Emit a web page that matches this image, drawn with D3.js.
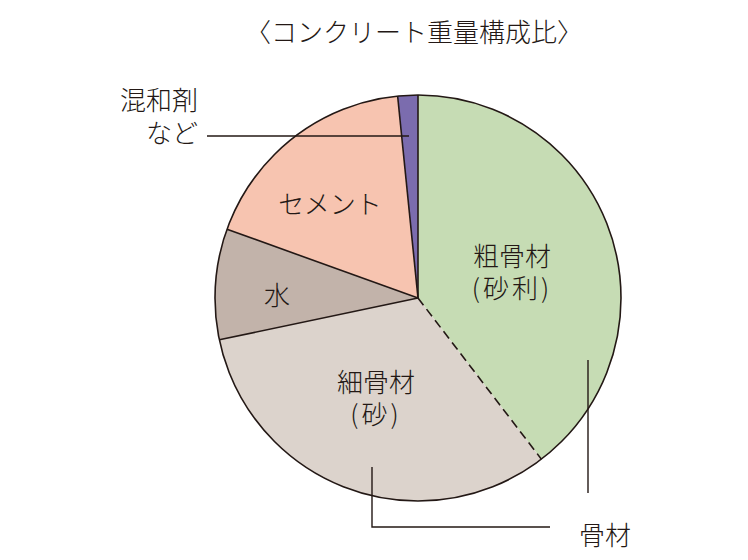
<!DOCTYPE html>
<html><head><meta charset="utf-8">
<script src="https://cdn.jsdelivr.net/npm/d3@7"></script>
<style>body{margin:0;background:#fff}svg{display:block}text{font-family:"Noto Sans CJK JP","Noto Sans",sans-serif;fill:#231815;font-weight:300}</style>
</head><body>
<script>
const categories = ["粗骨材(砂利)", "細骨材(砂)", "水", "セメント", "混和剤など"];
const values = [39.6, 32.1, 8.8, 17.9, 1.6];
const colors = ["#c6dcb4", "#dcd3cc", "#c2b3aa", "#f7c4b0", "#7b6cae"];
const title = "〈コンクリート重量構成比〉";

const W = 748, H = 560, cx = 418, cy = 298, R = 203;
const ink = "#231815";
const svg = d3.select("body").append("svg").attr("width", W).attr("height", H);
const g = svg.append("g").attr("transform", `translate(${cx},${cy})`);
const pie = d3.pie().sort(null).value(d => d)(values);
const arc = d3.arc().innerRadius(0).outerRadius(R);
g.selectAll("path.s").data(pie).join("path").attr("class","s")
  .attr("d", arc).attr("fill", (d,i) => colors[i]);
g.append("circle").attr("r", R).attr("fill","none").attr("stroke", ink).attr("stroke-width", 1.6);
g.selectAll("line.b").data(pie).join("line").attr("class","b")
  .attr("x1",0).attr("y1",0)
  .attr("x2", d => R*Math.sin(d.startAngle)).attr("y2", d => -R*Math.cos(d.startAngle))
  .attr("stroke", ink).attr("stroke-width", 1.6)
  .attr("stroke-dasharray", (d,i) => i === 1 ? "9,5" : null);

svg.append("text").attr("x", 414).attr("y", 42).attr("text-anchor","middle")
  .attr("font-size", 26).text(title);

function lbl(lines, x, y, anchor="middle", lh=31, ls=0) {
  const t = svg.append("text").attr("x", x).attr("y", y).attr("text-anchor", anchor).attr("font-size", 26);
  lines.forEach((s,i) => t.append("tspan").attr("x", x).attr("dy", i ? lh : 0)
    .attr("letter-spacing", s.includes("(") ? 3 : 0).text(s));
}
lbl(["粗骨材", "(砂利)"], 512, 266, "middle", 32);
lbl(["細骨材", "(砂)"], 376, 392, "middle", 32);
lbl(["水"], 277, 305);
lbl(["セメント"], 330, 214);
lbl(["混和剤", "など"], 198, 110, "end", 33);
lbl(["骨材"], 605, 545);

const ln = (pts) => svg.append("path").attr("d", d3.line()(pts)).attr("fill","none").attr("stroke", ink).attr("stroke-width", 1.4);
ln([[207,136],[409,136]]);
ln([[372,467],[372,527],[550,527]]);
ln([[588,360],[588,493]]);
</script>
</body></html>
